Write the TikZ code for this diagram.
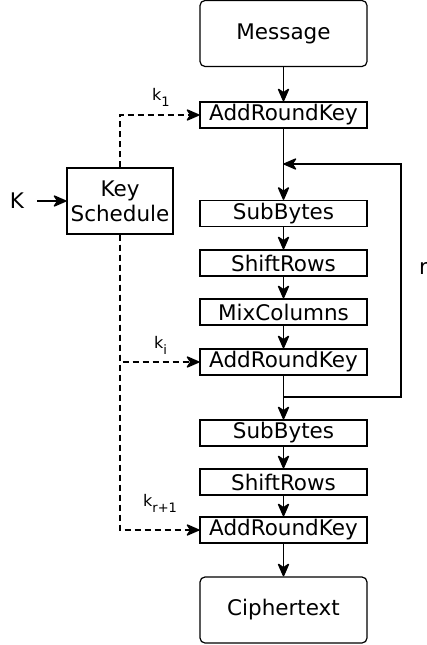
\documentclass[tikz,border=0pt]{standalone}
\usepackage{fontspec}
\setmainfont{DejaVu Sans}
\usetikzlibrary{arrows.meta}
\begin{document}
\begin{tikzpicture}[x=1pt,y=-1pt,
  blk/.style={draw,line width=1.2pt,minimum width=167pt,minimum height=26pt,inner sep=0pt,font=\fontsize{21.5}{25}\selectfont},
  bigblk/.style={blk,minimum height=66pt,rounded corners=5pt},
  conn/.style={line width=1.4pt,-{Stealth[length=15pt,width=13pt,inset=4.5pt,round]}},
  dconn/.style={conn,dash pattern=on 6pt off 4pt},
  lbl/.style={anchor=base west,inner sep=0pt,font=\fontsize{16}{18}\selectfont}]
\useasboundingbox (0,0) rectangle (427,645);
\node[bigblk] (msg) at (283.5,33.5) {Message};
\node[blk] (ark1) at (283.5,115) {AddRoundKey};
\node[blk] (sb1) at (283.5,213.5) {SubBytes};
\node[blk] (sr1) at (283.5,263) {ShiftRows};
\node[blk] (mc) at (283.5,312) {MixColumns};
\node[blk] (ark2) at (283.5,362) {AddRoundKey};
\node[blk] (sb2) at (283.5,433) {SubBytes};
\node[blk] (sr2) at (283.5,482) {ShiftRows};
\node[blk] (ark3) at (283.5,530) {AddRoundKey};
\node[bigblk] (ct) at (283.5,610) {Ciphertext};
\node[blk,minimum width=106pt,minimum height=66pt,align=center] (ks) at (120,201) {Key\\Schedule};
\node[inner sep=0pt,font=\fontsize{21.5}{25}\selectfont] (K) at (17,201) {K};
\node[anchor=west,inner sep=0pt,font=\fontsize{21.5}{25}\selectfont] (r) at (419,268) {r};
\coordinate (la) at (283.5,397);
\coordinate (lb) at (401,397);
\coordinate (lt) at (401,164);
\coordinate (lin) at (283.5,164);
\coordinate (kst) at (37,201);
\draw[conn] (msg) -- (ark1);
\draw[conn] (ark1) -- (sb1);
\draw[conn] (sb1) -- (sr1);
\draw[conn] (sr1) -- (mc);
\draw[conn] (mc) -- (ark2);
\draw[conn] (ark2) -- (sb2);
\draw[conn] (sb2) -- (sr2);
\draw[conn] (sr2) -- (ark3);
\draw[conn] (ark3) -- (ct);
\draw[conn] (la) -- (lb) -- (lt) -- (lin);
\draw[conn] (kst) -- (ks);
\draw[dconn] (ks.north) |- (ark1.west);
\draw[dconn] (ks.south) |- (ark2.west);
\draw[dconn] (ks.south) |- (ark3.west);
\node[lbl] (k1) at (152,100) {k\raisebox{-6pt}{\fontsize{13}{13}\selectfont 1}};
\node[lbl] (ki) at (154,348) {k\raisebox{-6pt}{\fontsize{13}{13}\selectfont i}};
\node[lbl] (kr) at (143,506) {k\raisebox{-6pt}{\fontsize{13}{13}\selectfont r+1}};
\end{tikzpicture}
\end{document}
